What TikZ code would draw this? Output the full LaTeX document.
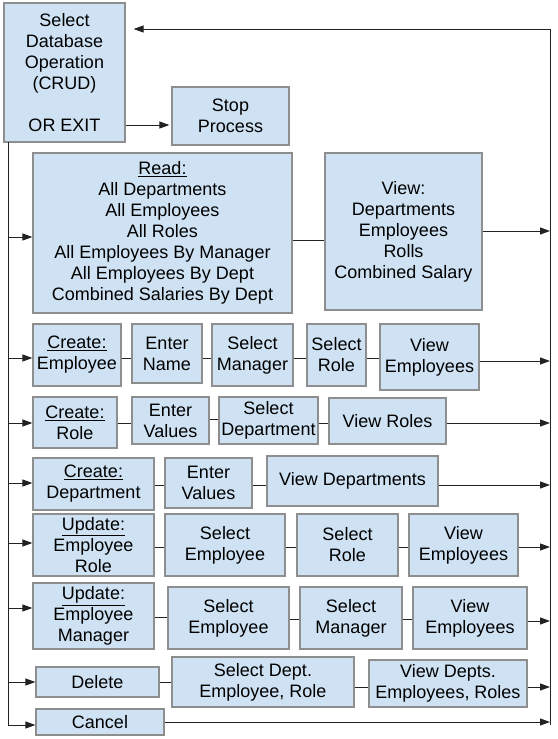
\documentclass[tikz,border=0pt]{standalone}
\usepackage{fontspec}
\setmainfont{Liberation Sans}
\usetikzlibrary{arrows.meta}
\definecolor{boxfill}{HTML}{CFE2F3}
\definecolor{boxdraw}{HTML}{8E8E8E}
\definecolor{linecol}{HTML}{222222}
\tikzset{
  box/.style={draw=boxdraw, fill=boxfill, line width=1.2pt, inner sep=0pt,
    align=center, font=\fontsize{18}{21}\selectfont, text=black},
  conn/.style={draw=linecol, line width=1pt},
  arr/.style={conn, -{Triangle[length=10pt,width=7pt]}},
}
\newcommand\bx[6]{\node[box, minimum width={(#4-#2)*1pt}, minimum height={(#5-#3)*1pt}] (#1) at ({(#2+#4)/2},{(#3+#5)/2}) {#6};}
\newcommand\hc[3]{\draw[conn] (#1.east |- 0,#3) -- (#2.west |- 0,#3);}
\newcommand\inarr[2]{\draw[arr] (Ltop |- 0,#2) -- (#1.west |- 0,#2);}
\newcommand\outarr[2]{\draw[arr] (#1.east |- 0,#2) -- (Rtop |- 0,#2);}
\begin{document}
\begin{tikzpicture}[x=1pt,y=-1pt]
\useasboundingbox (0,0) rectangle (557,739);
% boxes
\bx{op}{4}{3}{125}{142}{Select\\Database\\Operation\\(CRUD)\\[21pt]OR EXIT}
\bx{stop}{172}{87}{289}{145}{Stop\\Process}
\bx{read}{33}{153}{292}{313}{\underline{Read:}\\All Departments\\All Employees\\All Roles\\All Employees By Manager\\All Employees By Dept\\Combined Salaries By Dept}
\bx{view}{325}{153}{482}{310}{View:\\Departments\\Employees\\Rolls\\Combined Salary}
\bx{ce}{33}{324}{121}{386}{\underline{Create:}\\Employee}
\bx{ceN}{132}{324}{202}{383}{Enter\\Name}
\bx{ceM}{212}{324}{293}{386}{Select\\Manager}
\bx{ceR}{307}{324}{366}{386}{Select\\Role}
\bx{ceV}{380}{324}{479}{390}{View\\Employees}
\bx{cr}{33}{397}{117}{448}{\underline{Create:}\\Role}
\bx{crV}{132}{397}{209}{444}{Enter\\Values}
\bx{crD}{219}{397}{318}{444}{Select\\Department}
\bx{crR}{329}{398}{446}{444}{View Roles}
\bx{cd}{33}{458}{154}{510}{\underline{Create:}\\Department}
\bx{cdV}{165}{458}{252}{508}{Enter\\Values}
\bx{cdD}{267}{456}{438}{506}{View Departments}
\bx{ur}{33}{514}{154}{576}{\underline{Update:}\\Employee\\Role}
\bx{urE}{165}{514}{285}{576}{Select\\Employee}
\bx{urR}{297}{514}{398}{576}{Select\\Role}
\bx{urV}{409}{514}{518}{576}{View\\Employees}
\bx{um}{33}{583}{154}{649}{\underline{Update:}\\Employee\\Manager}
\bx{umE}{168}{587}{289}{649}{Select\\Employee}
\bx{umM}{300}{587}{402}{649}{Select\\Manager}
\bx{umV}{413}{587}{527}{649}{View\\Employees}
\bx{del}{36}{667}{159}{697}{Delete}
\bx{delS}{172}{657}{354}{707}{Select Dept.\\Employee, Role}
\bx{delV}{369}{660}{527}{707}{View Depts.\\Employees, Roles}
\bx{can}{36}{709}{164}{735}{Cancel}
% trunk coordinates
\coordinate (Ltop) at (8,142);
\coordinate (Lbot) at (8,725);
\coordinate (Rbot) at (550,725);
\coordinate (Rtop) at (550,29);
% trunks
\draw[arr] (Ltop) -- (Lbot) -- (can.west |- Lbot);
\draw[arr] (Rbot) -- (Rtop) -- ([xshift=8pt]op.east |- Rtop);
\draw[arr] (op.east |- 0,125) -- ([xshift=-2pt]stop.west |- 0,125);
% read row
\inarr{read}{237}
\hc{read}{view}{240}
\outarr{view}{231}
% create employee
\inarr{ce}{358}
\hc{ce}{ceN}{358}
\hc{ceN}{ceM}{358}
\hc{ceM}{ceR}{358}
\hc{ceR}{ceV}{358}
\outarr{ceV}{361}
% create role
\inarr{cr}{423}
\hc{cr}{crV}{423}
\hc{crV}{crD}{419}
\hc{crD}{crR}{423}
\outarr{crR}{423}
% create department
\inarr{cd}{483}
\hc{cd}{cdV}{485}
\hc{cdV}{cdD}{485}
\outarr{cdD}{485}
% update role
\inarr{ur}{543}
\hc{ur}{urE}{547}
\hc{urE}{urR}{547}
\hc{urR}{urV}{547}
\outarr{urV}{547}
% update manager
\inarr{um}{608}
\hc{um}{umE}{617}
\hc{umE}{umM}{619}
\hc{umM}{umV}{619}
\outarr{umV}{621}
% delete
\inarr{del}{682}
\hc{del}{delS}{682}
\hc{delS}{delV}{687}
\outarr{delV}{687}
% cancel
\outarr{can}{722}
\end{tikzpicture}
\end{document}
